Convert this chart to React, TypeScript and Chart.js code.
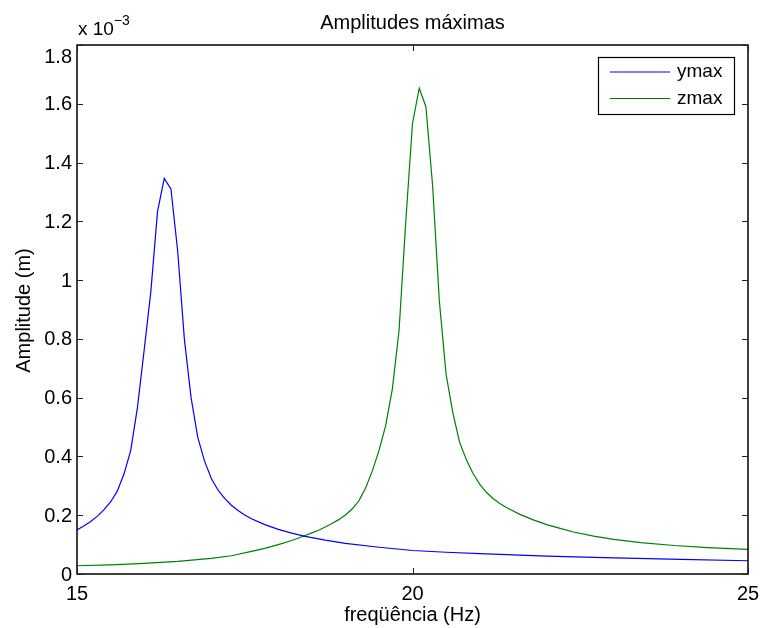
import React, { useEffect, useRef } from "react";
import { Chart, registerables } from "chart.js";

Chart.register(...registerables);

// Frequency (Hz) and amplitude (in units of 1e-3 m)
const freqY = [15.0, 15.1, 15.2, 15.3, 15.4, 15.5, 15.6, 15.7, 15.8, 15.9, 16.0, 16.1, 16.2, 16.3, 16.4, 16.5, 16.6, 16.7, 16.8, 16.9, 17.0, 17.1, 17.2, 17.3, 17.4, 17.5, 17.6, 17.8, 18.0, 18.2, 18.4, 18.7, 19.0, 19.5, 20.0, 20.5, 21.0, 22.0, 23.0, 24.0, 25.0];
const ampY = [0.150, 0.163, 0.178, 0.196, 0.218, 0.245, 0.282, 0.34, 0.42, 0.565, 0.76, 0.96, 1.233, 1.346, 1.31, 1.10, 0.80, 0.60, 0.465, 0.385, 0.326, 0.286, 0.257, 0.234, 0.216, 0.201, 0.188, 0.168, 0.152, 0.139, 0.128, 0.115, 0.104, 0.091, 0.080, 0.074, 0.069, 0.061, 0.055, 0.050, 0.045];

const freqZ = [15.0, 15.5, 16.0, 16.5, 17.0, 17.3, 17.6, 17.8, 18.0, 18.2, 18.4, 18.5, 18.6, 18.7, 18.8, 18.9, 19.0, 19.1, 19.2, 19.3, 19.4, 19.5, 19.6, 19.7, 19.8, 19.9, 20.0, 20.1, 20.2, 20.3, 20.4, 20.5, 20.6, 20.7, 20.8, 20.9, 21.0, 21.1, 21.2, 21.3, 21.4, 21.6, 21.8, 22.0, 22.2, 22.4, 22.7, 23.0, 23.4, 23.9, 24.4, 25.0];
const ampZ = [0.028, 0.031, 0.036, 0.043, 0.053, 0.062, 0.077, 0.087, 0.100, 0.114, 0.131, 0.140, 0.149, 0.160, 0.172, 0.185, 0.201, 0.221, 0.249, 0.292, 0.350, 0.420, 0.505, 0.63, 0.83, 1.20, 1.533, 1.653, 1.59, 1.32, 0.93, 0.68, 0.55, 0.45, 0.39, 0.343, 0.306, 0.278, 0.257, 0.240, 0.226, 0.203, 0.184, 0.168, 0.155, 0.143, 0.129, 0.118, 0.107, 0.097, 0.090, 0.084];

const seriesNames = ["ymax", "zmax"];
const xTicks = [15, 20, 25];
const yTicks = [0, 0.2, 0.4, 0.6, 0.8, 1, 1.2, 1.4, 1.6, 1.8];
const yTickLabels = ["0", "0.2", "0.4", "0.6", "0.8", "1", "1.2", "1.4", "1.6", "1.8"];
const titleText = "Amplitudes máximas";
const xTitle = "freqüência (Hz)";
const yTitle = "Amplitude (m)";

const FONT = "'Liberation Sans', Arial, Helvetica, sans-serif";

const matlabPlugin = {
  id: "matlabFrame",
  afterDatasetsDraw(chart: any) {
    const ctx = chart.ctx;
    const { left, right, top, bottom } = chart.chartArea;
    const xs = chart.scales.x;
    const ys = chart.scales.y;
    ctx.save();
    // frame
    ctx.strokeStyle = "#000";
    ctx.lineWidth = 1.5;
    ctx.strokeRect(left, top, right - left, bottom - top);
    // ticks inward
    ctx.lineWidth = 1;
    ctx.strokeStyle = "#222";
    const tl = 6;
    ctx.beginPath();
    yTicks.forEach((v) => {
      const py = Math.round(ys.getPixelForValue(v)) + 0.5;
      ctx.moveTo(left, py); ctx.lineTo(left + tl, py);
      ctx.moveTo(right, py); ctx.lineTo(right - tl, py);
    });
    xTicks.forEach((v) => {
      const px = Math.round(xs.getPixelForValue(v)) + 0.5;
      ctx.moveTo(px, bottom); ctx.lineTo(px, bottom - tl);
      ctx.moveTo(px, top); ctx.lineTo(px, top + tl);
    });
    ctx.stroke();

    ctx.fillStyle = "#000";
    ctx.font = `20px ${FONT}`;
    // y tick labels
    ctx.textAlign = "right";
    ctx.textBaseline = "middle";
    yTicks.forEach((v, i) => {
      let py = ys.getPixelForValue(v);
      if (i === yTicks.length - 1) py += 11;
      ctx.fillText(yTickLabels[i], left - 5, py + 1);
    });
    // x tick labels
    ctx.textAlign = "center";
    ctx.textBaseline = "top";
    xTicks.forEach((v) => {
      ctx.fillText(String(v), xs.getPixelForValue(v), bottom + 10);
    });
    // titles
    const cx = (left + right) / 2;
    ctx.textBaseline = "alphabetic";
    ctx.fillText(titleText, cx, 29);
    ctx.fillText(xTitle, cx, 621);
    ctx.save();
    ctx.translate(30, (top + bottom) / 2 + 1);
    ctx.rotate(-Math.PI / 2);
    ctx.textAlign = "center";
    ctx.fillText(yTitle, 0, 0);
    ctx.restore();
    // exponent label
    ctx.textAlign = "left";
    ctx.font = `19px ${FONT}`;
    ctx.fillText("x 10", left + 1, 35);
    const w = ctx.measureText("x 10").width;
    ctx.font = `14px ${FONT}`;
    ctx.fillText("−3", left + 1 + w, 25);

    // legend
    const lx = 598, ly = 57, lw = 136, lh = 57;
    ctx.fillStyle = "#fff";
    ctx.fillRect(lx, ly, lw, lh);
    ctx.strokeStyle = "#000";
    ctx.lineWidth = 1.2;
    ctx.strokeRect(lx + 0.5, ly + 0.5, lw, lh);
    chart.data.datasets.forEach((ds: any, i: number) => {
      const yy = ly + 15 + i * 26.5;
      ctx.strokeStyle = ds.borderColor;
      ctx.lineWidth = 1.2;
      ctx.beginPath();
      ctx.moveTo(610, yy);
      ctx.lineTo(670, yy);
      ctx.stroke();
      ctx.fillStyle = "#000";
      ctx.font = `19px ${FONT}`;
      ctx.textBaseline = "middle";
      ctx.fillText(ds.label, 677, yy);
    });
    ctx.restore();
  },
};

export default function App() {
  const ref = useRef<HTMLCanvasElement | null>(null);
  useEffect(() => {
    document.body.style.margin = "0";
    const canvas = ref.current;
    if (!canvas) return;
    const chart = new Chart(canvas, {
      type: "line",
      data: {
        datasets: [
          {
            label: seriesNames[0],
            data: freqY.map((f, i) => ({ x: f, y: ampY[i] })),
            borderColor: "#0000ff",
            borderWidth: 1.2,
            pointRadius: 0,
            tension: 0,
          },
          {
            label: seriesNames[1],
            data: freqZ.map((f, i) => ({ x: f, y: ampZ[i] })),
            borderColor: "#008000",
            borderWidth: 1.2,
            pointRadius: 0,
            tension: 0,
          },
        ],
      },
      options: {
        animation: false,
        responsive: false,
        maintainAspectRatio: false,
        layout: { padding: { left: 77, top: 45, right: 13, bottom: 54 } },
        scales: {
          x: { type: "linear", min: 15, max: 25, display: false },
          y: { type: "linear", min: 0, max: 1.8, display: false },
        },
        plugins: {
          legend: { display: false },
          tooltip: { enabled: false },
          title: { display: false },
        },
      },
      plugins: [matlabPlugin],
    });
    return () => chart.destroy();
  }, []);
  return <canvas ref={ref} width={761} height={628} style={{ display: "block" }} />;
}
